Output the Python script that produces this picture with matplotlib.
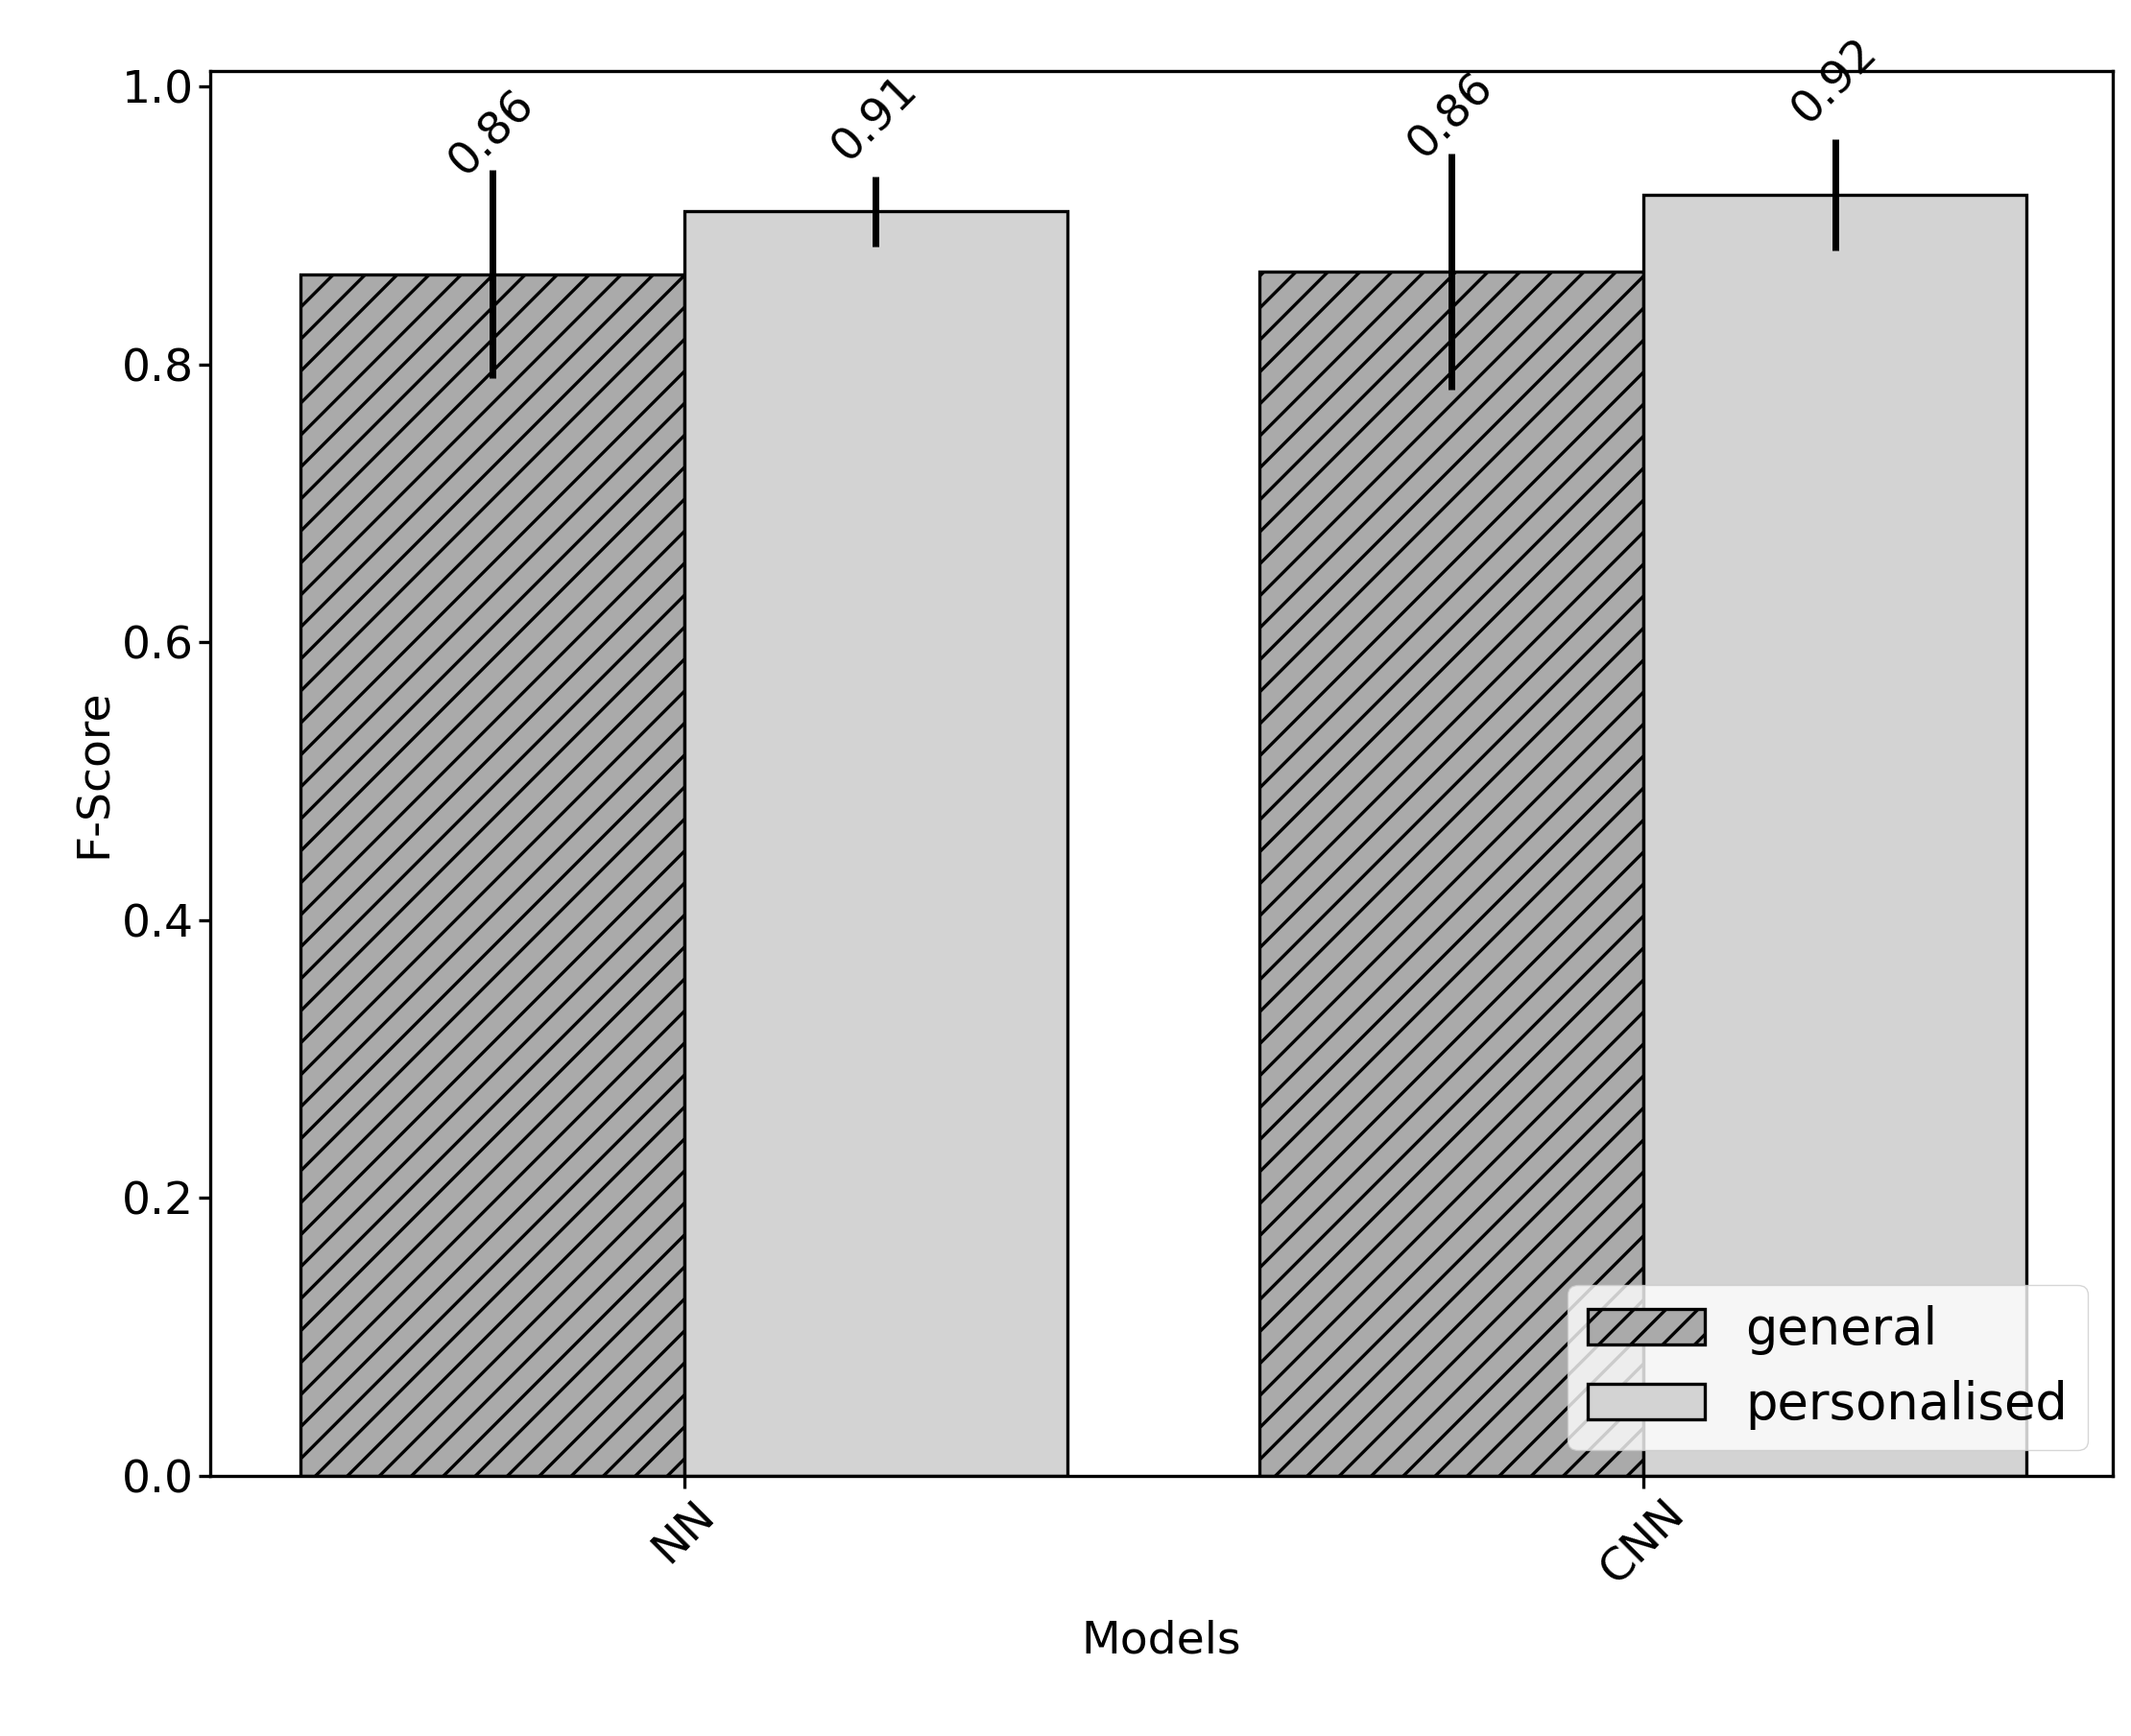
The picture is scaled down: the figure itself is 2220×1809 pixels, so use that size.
import matplotlib
matplotlib.use("Agg")
import matplotlib.pyplot as plt
import numpy as np

models = ["NN", "CNN"]
general = [0.865, 0.867]
general_err = [0.075, 0.085]
personal = [0.91, 0.922]
personal_err = [0.025, 0.04]
general_lbl = ["0.86", "0.86"]
personal_lbl = ["0.91", "0.92"]

plt.rcParams['hatch.linewidth'] = 2.4
fig = plt.figure(figsize=(22.2, 18.09), dpi=100)
ax = fig.add_axes([0.0986, 0.150, 0.893, 0.809])
for s in ax.spines.values():
    s.set_linewidth(2.4)
x = np.arange(len(models))
w = 0.4
ax.bar(x - w/2, general, w, color="#aaaaaa", edgecolor="black", hatch="/", label="general", linewidth=2.4)
ax.bar(x + w/2, personal, w, color="#d3d3d3", edgecolor="black", label="personalised", linewidth=2.4)
ax.errorbar(x - w/2, general, yerr=general_err, fmt="none", ecolor="black", elinewidth=5)
ax.errorbar(x + w/2, personal, yerr=personal_err, fmt="none", ecolor="black", elinewidth=5)
for xi, v, e, l in zip(x - w/2, general, general_err, general_lbl):
    ax.text(xi, v + e - 0.01, l, rotation=45, ha="center", va="bottom", fontsize=34)
for xi, v, e, l in zip(x + w/2, personal, personal_err, personal_lbl):
    ax.text(xi, v + e + 0.005, l, rotation=45, ha="center", va="bottom", fontsize=34)
ax.set_xticks(x)
ax.set_xticklabels(models, rotation=45, fontsize=34)
ax.tick_params(axis="both", labelsize=34, width=2.4, length=9)
ax.set_xlim(-0.494, 1.49)
ax.set_ylim(0, 1.011)
ax.set_xlabel("Models", fontsize=34, labelpad=20)
ax.set_ylabel("F-Score", fontsize=34)
ax.legend(loc="lower right", fontsize=38, handlelength=2.3)
fig.savefig("out.png")
